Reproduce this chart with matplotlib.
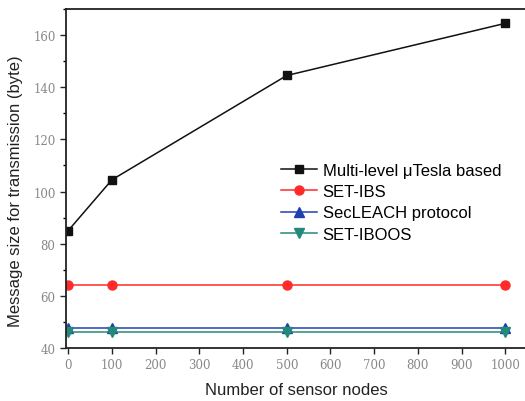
import matplotlib
matplotlib.use("Agg")
import matplotlib.pyplot as plt
from matplotlib.ticker import MultipleLocator

# data
nodes = [0, 100, 500, 1000]
multilevel_utesla = [85, 104.5, 144.5, 164.5]
set_ibs = [64, 64, 64, 64]
secleach = [47.8, 47.8, 47.8, 47.8]
set_iboos = [46.2, 46.2, 46.2, 46.2]

series_names = ["Multi-level \u03bcTesla based", "SET-IBS",
                "SecLEACH protocol", "SET-IBOOS"]

fig = plt.figure(figsize=(5.25, 4.02), dpi=100)
ax = fig.add_axes([66 / 525, 53 / 402, 1 - 66 / 525, 339 / 402])

ax.plot(nodes, multilevel_utesla, color="#111111", lw=1.1, marker="s",
        ms=5.8, label=series_names[0])
ax.plot(nodes, set_ibs, color="#ff2a2a", lw=1.1, marker="o",
        ms=6.5, label=series_names[1])
ax.plot(nodes, secleach, color="#2040b0", lw=1.1, marker="^",
        ms=6.5, label=series_names[2])
ax.plot(nodes, set_iboos, color="#238a7a", lw=1.1, marker="v",
        ms=6.5, label=series_names[3])

ax.set_xlim(-5, 1045)
ax.set_ylim(40, 170)
ax.xaxis.set_major_locator(MultipleLocator(100))
ax.yaxis.set_major_locator(MultipleLocator(20))
ax.yaxis.set_minor_locator(MultipleLocator(10))

ax.spines["right"].set_visible(False)
for s in ["left", "bottom", "top"]:
    ax.spines[s].set_linewidth(1.3)
    ax.spines[s].set_color("#222222")

ax.tick_params(direction="out", length=4, width=1, colors="#222222",
               labelcolor="#888888", labelsize=8.5)
ax.tick_params(which="minor", direction="out", length=2.5, width=1)
for lab in ax.get_xticklabels() + ax.get_yticklabels():
    lab.set_family("DejaVu Serif")

ax.set_xlabel("Number of sensor nodes", fontsize=12,
              family="Liberation Sans", color="#222222")
ax.set_ylabel("Message size for transmission (byte)", fontsize=12,
              family="Liberation Sans", color="#222222")
ax.xaxis.set_label_coords(230 / 459, -34 / 339)
ax.yaxis.set_label_coords(-43 / 459, 0.465)

ax.legend(loc="upper left", bbox_to_anchor=(281 / 525, (402 - 164) / 402),
          bbox_transform=fig.transFigure, frameon=False,
          prop={"family": "Liberation Sans", "size": 12},
          handlelength=2.15, handletextpad=0.35, labelspacing=0.37,
          borderpad=0, borderaxespad=0)

fig.savefig("out.png", dpi=100)
